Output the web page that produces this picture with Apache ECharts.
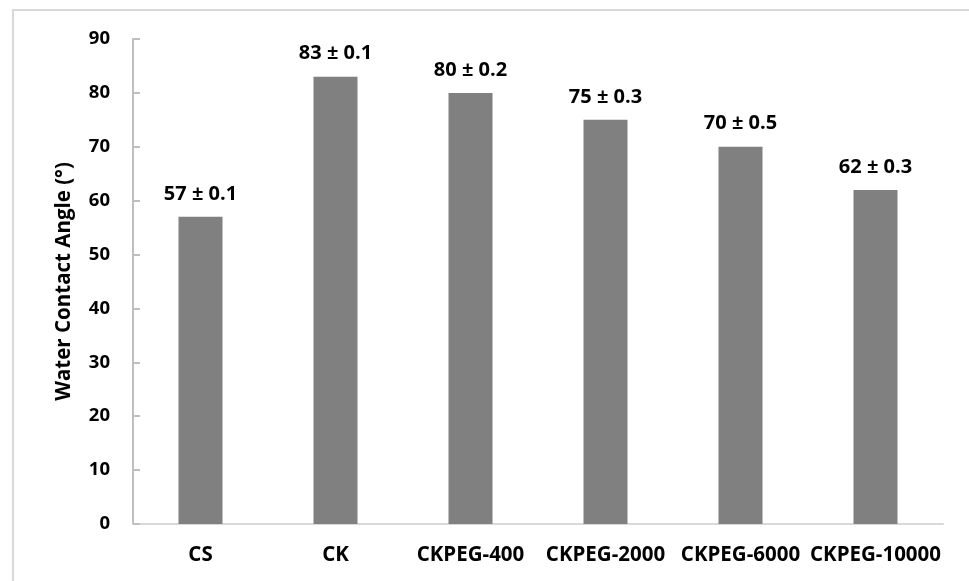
<!DOCTYPE html>
<html>
<head>
<meta charset="utf-8">
<script src="https://cdn.jsdelivr.net/npm/echarts@6/dist/echarts.min.js"></script>
<style>html,body{margin:0;padding:0;background:#fff;}#c{width:969px;height:581px;}</style>
</head>
<body>
<div id="c"></div>
<script>
const categories = ['CS', 'CK', 'CKPEG-400', 'CKPEG-2000', 'CKPEG-6000', 'CKPEG-10000'];
const values = [57, 83, 80, 75, 70, 62];
const errors = ['0.1', '0.1', '0.2', '0.3', '0.5', '0.3'];
const yTicks = { min: 0, max: 90, interval: 10 };
const yName = 'Water Contact Angle (°)';

const FONT = '"Open Sans"';
const chart = echarts.init(document.getElementById('c'), null, { renderer: 'canvas' });
chart.setOption({
  animation: false,
  backgroundColor: '#fff',
  graphic: [{
    type: 'rect', silent: true, z: -10,
    shape: { x: 13, y: 10, width: 1200, height: 1200 },
    style: { fill: 'none', stroke: '#d9d9d9', lineWidth: 2 }
  }],
  grid: { left: 133, right: 26, top: 39, bottom: 57, containLabel: false },
  xAxis: {
    type: 'category',
    data: categories,
    axisLine: { show: true, lineStyle: { color: '#d9d9d9', width: 2 } },
    axisTick: { show: false },
    axisLabel: { color: '#000', fontFamily: FONT, fontWeight: 'bold', fontSize: 20.5, margin: 21, interval: 0 }
  },
  yAxis: {
    type: 'value',
    min: yTicks.min, max: yTicks.max, interval: yTicks.interval,
    name: yName,
    nameLocation: 'middle',
    nameGap: 58,
    nameTextStyle: { color: '#000', fontFamily: FONT, fontWeight: 'bold', fontSize: 20.5 },
    axisLine: { show: true, lineStyle: { color: '#bfbfbf', width: 2 } },
    axisTick: { show: true, inside: true, length: 7, lineStyle: { color: '#bfbfbf', width: 2 } },
    axisLabel: { color: '#000', fontFamily: FONT, fontWeight: 'bold', fontSize: 18.5, margin: 23 },
    splitLine: { show: false }
  },
  series: [{
    type: 'bar',
    data: values.map((v, i) => ({ value: v, err: errors[i] })),
    barWidth: 44,
    itemStyle: { color: '#808080' },
    label: {
      show: true, position: 'top', distance: 13,
      color: '#000', fontFamily: FONT, fontWeight: 'bold', fontSize: 20,
      formatter: p => p.value + ' ± ' + errors[p.dataIndex]
    }
  }]
});
</script>
</body>
</html>
